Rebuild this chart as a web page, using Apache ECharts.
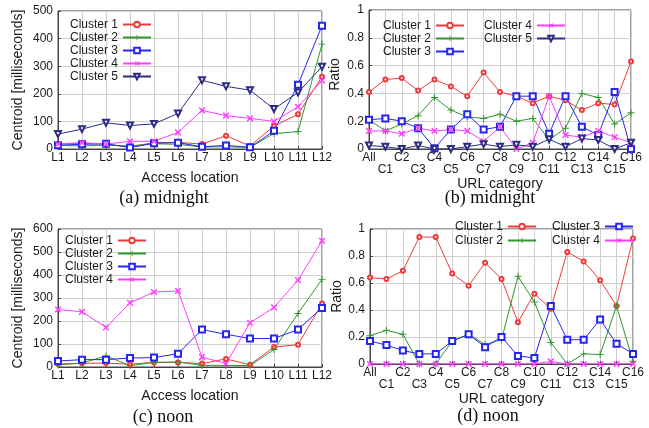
<!DOCTYPE html>
<html>
<head>
<meta charset="utf-8">
<script src="https://cdn.jsdelivr.net/npm/echarts@6/dist/echarts.min.js"></script>
<style>
html,body{margin:0;padding:0;background:#fff;}
#chart{width:649px;height:428px;}
</style>
</head>
<body>
<div id="chart"></div>
<script>
// ---------- categories ----------
const locCats = ['L1','L2','L3','L4','L5','L6','L7','L8','L9','L10','L11','L12'];
const urlCats = ['All','C1','C2','C3','C4','C5','C6','C7','C8','C9','C10','C11','C12','C13','C14','C15','C16'];

// ---------- (a) midnight, access location ----------
const aCluster1 = [18,21,17,8,23,24,18,48,11,83,126,262];
const aCluster2 = [13,11,14,11,19,17,7,8,6,56,63,380];
const aCluster3 = [14,17,19,5,21,23,8,13,6,66,233,447];
const aCluster4 = [18,23,18,28,28,60,140,121,111,100,153,248];
const aCluster5 = [54,72,95,85,91,129,249,227,213,145,205,298];

// ---------- (b) midnight, URL category ----------
const bCluster1 = [0.41,0.50,0.51,0.42,0.50,0.45,0.38,0.55,0.41,0.38,0.33,0.38,0.35,0.28,0.33,0.32,0.63];
const bCluster2 = [0.21,0.13,0.18,0.24,0.37,0.28,0.23,0.22,0.25,0.20,0.22,0.065,0.15,0.40,0.37,0.18,0.26];
const bCluster3 = [0.21,0.22,0.20,0.15,0.005,0.14,0.25,0.14,0.16,0.38,0.38,0.11,0.38,0.16,0.10,0.41,0.0];
const bCluster4 = [0.13,0.13,0.11,0.15,0.13,0.14,0.13,0.055,0.16,0.0,0.045,0.38,0.10,0.085,0.13,0.085,0.045];
const bCluster5 = [0.025,0.017,0,0.025,0,0,0.017,0.035,0.017,0.03,0.017,0.07,0.017,0.075,0.065,0,0.045];

// ---------- (c) noon, access location ----------
const cCluster1 = [13,16,17,12,20,20,15,35,10,87,97,276];
const cCluster2 = [9,17,48,6,20,22,7,7,6,76,233,381];
const cCluster3 = [26,32,32,39,41,58,163,142,124,124,163,257];
const cCluster4 = [250,240,172,279,326,331,43,15,192,259,378,549];

// ---------- (d) noon, URL category ----------
const dCluster1 = [0.64,0.63,0.69,0.94,0.94,0.67,0.58,0.75,0.63,0.31,0.52,0.41,0.83,0.76,0.62,0.43,0.93];
const dCluster2 = [0.21,0.25,0.22,0.0,0.0,0.17,0.22,0.145,0.18,0.65,0.46,0.16,0.0,0.075,0.07,0.43,0.02];
const dCluster3 = [0.17,0.14,0.10,0.075,0.075,0.17,0.22,0.125,0.20,0.06,0.045,0.43,0.18,0.18,0.33,0.15,0.075];
const dCluster4 = [0,0,0,0,0,0,0,0,0,0,0,0.02,0,0,0,0,0];

// ---------- labels ----------
const clusterNames = ['Cluster 1','Cluster 2','Cluster 3','Cluster 4','Cluster 5'];
const panelTitles = ['(a) midnight','(b) midnight','(c) noon','(d) noon'];
const locAxisName = 'Access location';
const urlAxisName = 'URL category';
const centroidAxisName = 'Centroid [milliseconds]';
const ratioAxisName = 'Ratio';

// ---------- styles ----------
const colors = ['#f03a3a','#2f962f','#2626f0','#ff3cff','#2c2c80'];
const plusPath = 'path://M4.3,0h1.4v4.3h4.3v1.4h-4.3v4.3h-1.4v-4.3h-4.3v-1.4h4.3z';
const crossPath = 'path://M4.1,0h1.8v4.1h4.1v1.8h-4.1v4.1h-1.8v-4.1h-4.1v-1.8h4.1z';
const styles = [
  {symbol:'emptyCircle', size:4, rotate:0, bw:1},
  {symbol:plusPath, size:7, rotate:0, bw:0},
  {symbol:'emptyRect', size:6, rotate:0, bw:1},
  {symbol:crossPath, size:8, rotate:45, bw:0},
  {symbol:'emptyTriangle', size:6, rotate:180, bw:1}
];

const font = 'Liberation Sans, Arial, sans-serif';
const textColor = '#1a1a1a';

const grids = [
  {left:58, top:11, width:264, height:138, show:true, borderColor:'#444', borderWidth:1},
  {left:369, top:10, width:262, height:139, show:true, borderColor:'#444', borderWidth:1},
  {left:58, top:229, width:264, height:138, show:true, borderColor:'#444', borderWidth:1},
  {left:370, top:229, width:263, height:135, show:true, borderColor:'#444', borderWidth:1}
];

function xAxisFor(gi, cats, name, gap, stagger) {
  return {
    type:'category', gridIndex:gi, data:cats, boundaryGap:false,
    name:name, nameLocation:'middle', nameGap:gap,
    nameTextStyle:{fontFamily:font, fontSize:14, color:textColor},
    axisLine:{show:true, lineStyle:{color:'#444', width:1}},
    axisTick:{show:true, inside:true, length:3, alignWithLabel:true, lineStyle:{color:'#444'}},
    axisLabel:{
      interval:0, margin:3, fontFamily:font, fontSize:12, color:textColor, lineHeight:12,
      formatter: stagger ? function(v, i){ return (i % 2) ? '\n' + v : v; } : '{value}'
    },
    splitLine:{show:true, interval:0, lineStyle:{color:'#d0d0d0', width:1}}
  };
}
function yAxisFor(gi, max, interval, name, gap, pad) {
  return {
    type:'value', gridIndex:gi, min:0, max:max, interval:interval,
    name:name, nameLocation:'middle', nameGap:gap,
    nameTextStyle:{fontFamily:font, fontSize:14, color:textColor, padding:pad},
    axisLine:{show:true, lineStyle:{color:'#444', width:1}},
    axisTick:{show:true, inside:true, length:3, lineStyle:{color:'#444'}},
    axisLabel:{margin:5, fontFamily:font, fontSize:12, color:textColor},
    splitLine:{show:true, lineStyle:{color:'#d0d0d0', width:1}}
  };
}

function mkSeries(gi, k, data) {
  const st = styles[k];
  return {
    type:'line', name:clusterNames[k], xAxisIndex:gi, yAxisIndex:gi, data:data,
    symbol:st.symbol, symbolSize:st.size, symbolRotate:st.rotate, showAllSymbol:true,
    lineStyle:{color:colors[k], width:1},
    itemStyle:{color:colors[k], borderColor:colors[k], borderWidth:st.bw},
    emphasis:{disabled:true}, animation:false
  };
}

function mkLegend(names, left, top, gap) {
  return {
    data:names, orient:'vertical', align:'right', left:left, top:top,
    padding:0, itemGap:gap, itemWidth:28, itemHeight:7,
    textStyle:{fontFamily:font, fontSize:12, color:textColor, lineHeight:13},
    selectedMode:false
  };
}

const series = [
  mkSeries(0,0,aCluster1), mkSeries(0,1,aCluster2), mkSeries(0,2,aCluster3), mkSeries(0,3,aCluster4), mkSeries(0,4,aCluster5),
  mkSeries(1,0,bCluster1), mkSeries(1,1,bCluster2), mkSeries(1,2,bCluster3), mkSeries(1,3,bCluster4), mkSeries(1,4,bCluster5),
  mkSeries(2,0,cCluster1), mkSeries(2,1,cCluster2), mkSeries(2,2,cCluster3), mkSeries(2,3,cCluster4),
  mkSeries(3,0,dCluster1), mkSeries(3,1,dCluster2), mkSeries(3,2,dCluster3), mkSeries(3,3,dCluster4)
];

const titleStyle = {fontFamily:'Liberation Serif, Times New Roman, serif', fontSize:18, fill:'#111'};
const option = {
  backgroundColor:'#fff',
  animation:false,
  grid:grids,
  xAxis:[
    xAxisFor(0, locCats, locAxisName, 22, false),
    xAxisFor(1, urlCats, urlAxisName, 25, true),
    xAxisFor(2, locCats, locAxisName, 22, false),
    xAxisFor(3, urlCats, urlAxisName, 28, true)
  ],
  yAxis:[
    yAxisFor(0, 500, 100, centroidAxisName, 33, [0,0,0,0]),
    yAxisFor(1, 1, 0.2, ratioAxisName, 27, [0,0,0,10]),
    yAxisFor(2, 600, 100, centroidAxisName, 33, [0,0,0,0]),
    yAxisFor(3, 1, 0.2, ratioAxisName, 26, [0,0,0,0])
  ],
  legend:[
    mkLegend(clusterNames.slice(0,5), 70, 18, 0),
    mkLegend(clusterNames.slice(0,3), 383, 19, 0),
    mkLegend(clusterNames.slice(3,5), 484, 19, 0),
    mkLegend(clusterNames.slice(0,4), 65, 234, 0),
    mkLegend(clusterNames.slice(0,2), 455, 220, 1),
    mkLegend(clusterNames.slice(2,4), 552, 220, 1)
  ],
  graphic:[
    {type:'text', x:164, y:198, style:Object.assign({text:panelTitles[0], align:'center', verticalAlign:'middle'}, titleStyle)},
    {type:'text', x:490, y:198, style:Object.assign({text:panelTitles[1], align:'center', verticalAlign:'middle'}, titleStyle)},
    {type:'text', x:163, y:417, style:Object.assign({text:panelTitles[2], align:'center', verticalAlign:'middle'}, titleStyle)},
    {type:'text', x:488, y:416, style:Object.assign({text:panelTitles[3], align:'center', verticalAlign:'middle'}, titleStyle)}
  ],
  series:series
};

const chart = echarts.init(document.getElementById('chart'), null, {renderer:'canvas'});
chart.setOption(option);
</script>
</body>
</html>
